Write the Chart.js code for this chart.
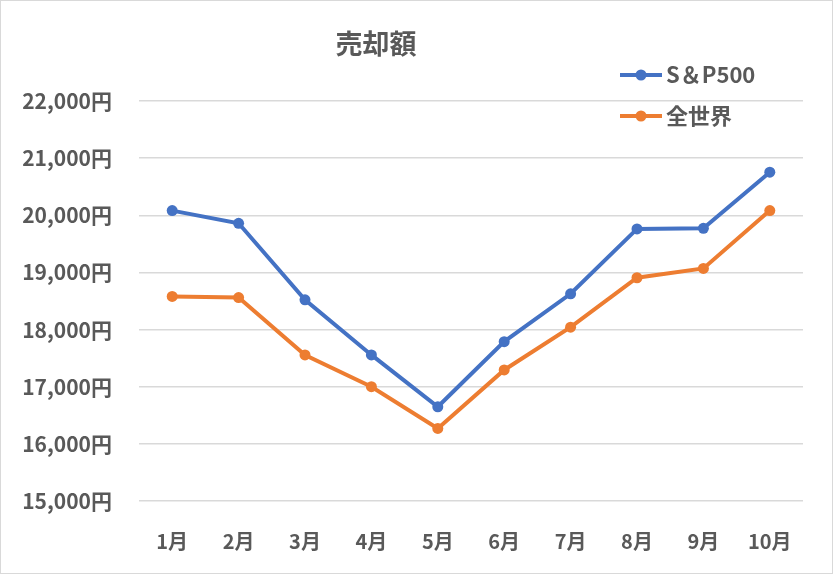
<!DOCTYPE html>
<html><head><meta charset="utf-8">
<script src="https://cdn.jsdelivr.net/npm/chart.js@4/dist/chart.umd.min.js"></script>
<style>html,body{margin:0;padding:0;background:#fff}#wrap{width:833px;height:574px;position:relative}</style>
</head><body><div id="wrap"><canvas id="c" width="833" height="574"></canvas></div>
<script>
const chartTitle = '売却額';
const categories = ['1月','2月','3月','4月','5月','6月','7月','8月','9月','10月'];
const seriesNames = ['S＆P500','全世界'];
const sp500 = [20082, 19860, 18521, 17556, 16649, 17789, 18626, 19761, 19772, 20754];
const world = [18579, 18561, 17556, 17000, 16270, 17293, 18042, 18907, 19070, 20082];
const yMin = 15000, yMax = 22000, yStep = 1000;
const colors = ['#4472C4','#ED7D31'];
const FONT = '"Noto Sans CJK JP", "Noto Sans", sans-serif';
const textColor = '#595959';

const overlay = {
  id: 'overlay',
  afterDraw(chart) {
    const ctx = chart.ctx;
    ctx.save();
    ctx.strokeStyle = '#d9d9d9';
    ctx.lineWidth = 1;
    ctx.strokeRect(0.5, 0.5, 832, 573);
    ctx.fillStyle = textColor;
    ctx.font = '700 27px ' + FONT;
    ctx.textAlign = 'center';
    ctx.textBaseline = 'middle';
    ctx.fillText(chartTitle, 376, 44);
    const items = chart.data.datasets;
    const ys = [75, 116];
    items.forEach((ds, i) => {
      const y = ys[i];
      ctx.strokeStyle = ds.borderColor;
      ctx.lineWidth = 4;
      ctx.beginPath(); ctx.moveTo(620, y); ctx.lineTo(662, y); ctx.stroke();
      ctx.fillStyle = ds.borderColor;
      ctx.beginPath(); ctx.arc(641, y, 5.5, 0, Math.PI * 2); ctx.fill();
      ctx.fillStyle = textColor;
      ctx.font = '700 22px ' + FONT;
      ctx.textAlign = 'left';
      ctx.fillText(ds.label, 666, y);
    });
    ctx.restore();
  }
};

new Chart(document.getElementById('c'), {
  type: 'line',
  data: {
    labels: categories,
    datasets: [
      { label: seriesNames[0], data: sp500, borderColor: colors[0], backgroundColor: colors[0], borderWidth: 4, pointRadius: 5.5, pointBorderWidth: 0, pointBackgroundColor: colors[0], tension: 0 },
      { label: seriesNames[1], data: world, borderColor: colors[1], backgroundColor: colors[1], borderWidth: 4, pointRadius: 5.5, pointBorderWidth: 0, pointBackgroundColor: colors[1], tension: 0 }
    ]
  },
  options: {
    responsive: false,
    animation: false,
    devicePixelRatio: 1,
    layout: { padding: { top: 101, right: 30, left: 0, bottom: 0 } },
    plugins: { legend: { display: false }, title: { display: false }, tooltip: { enabled: false } },
    scales: {
      x: {
        offset: true,
        grid: { display: false, drawTicks: false },
        border: { display: false },
        ticks: { color: textColor, font: { family: FONT, size: 20, weight: '700' }, padding: 28, maxRotation: 0 },
        afterFit(s) { s.height = 73; }
      },
      y: {
        min: yMin, max: yMax,
        grid: { color: '#d9d9d9', lineWidth: 1.5, drawTicks: false },
        border: { display: false },
        ticks: { stepSize: yStep, color: textColor, font: { family: FONT, size: 21, weight: '700' }, padding: 27,
          callback: v => v.toLocaleString('en-US') + '円' },
        afterFit(s) { s.width = 139; }
      }
    }
  },
  plugins: [overlay]
});
</script></body></html>
